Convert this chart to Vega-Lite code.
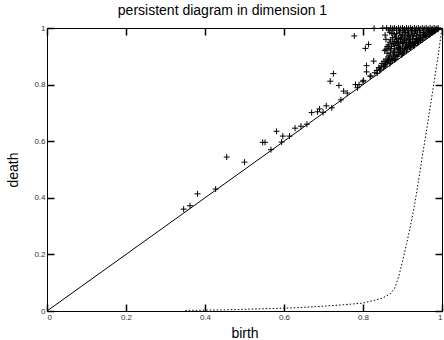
{
  "$schema": "https://vega.github.io/schema/vega-lite/v6.json",
  "width": 395,
  "height": 283,
  "autosize": "none",
  "padding": {"left": 47, "top": 28, "right": 2, "bottom": 29},
  "title": {"text": "persistent diagram in dimension 1", "fontSize": 14, "fontWeight": "normal", "font": "Liberation Sans", "color": "black", "offset": 5, "dx": -22},
  "config": {
    "view": {"stroke": "black", "strokeWidth": 1},
    "axis": {"grid": false, "domain": false, "tickColor": "black", "tickSize": 7, "offset": -7, "tickWidth": 1.5, "zindex": 2, "labelFontSize": 8, "tickCount": 5}
  },
  "datasets": {
    "diag": [{"b": 0, "d": 0}, {"b": 1, "d": 1}],
    "curve": [
      {"b": 0.35, "d": 0.002}, {"b": 0.4, "d": 0.003}, {"b": 0.45, "d": 0.004}, {"b": 0.5, "d": 0.006}, {"b": 0.55, "d": 0.008}, {"b": 0.6, "d": 0.01}, {"b": 0.65, "d": 0.013}, {"b": 0.7, "d": 0.017}, {"b": 0.75, "d": 0.022}, {"b": 0.8, "d": 0.028}, {"b": 0.83, "d": 0.038}, {"b": 0.85, "d": 0.046}, {"b": 0.87, "d": 0.062}, {"b": 0.88, "d": 0.08}, {"b": 0.89, "d": 0.12}, {"b": 0.9, "d": 0.175}, {"b": 0.91, "d": 0.235}, {"b": 0.92, "d": 0.3}, {"b": 0.93, "d": 0.37}, {"b": 0.94, "d": 0.455}, {"b": 0.95, "d": 0.545}, {"b": 0.96, "d": 0.63}, {"b": 0.97, "d": 0.72}, {"b": 0.98, "d": 0.81}, {"b": 0.99, "d": 0.9}, {"b": 1.0, "d": 1.0}
    ],
    "pts": [
      {"b": 0.346, "d": 0.36}, {"b": 0.362, "d": 0.372}, {"b": 0.381, "d": 0.414}, {"b": 0.427, "d": 0.431}, {"b": 0.455, "d": 0.544}, {"b": 0.5, "d": 0.526},
      {"b": 0.546, "d": 0.596}, {"b": 0.552, "d": 0.596}, {"b": 0.567, "d": 0.57}, {"b": 0.581, "d": 0.635}, {"b": 0.594, "d": 0.597}, {"b": 0.597, "d": 0.618},
      {"b": 0.614, "d": 0.618}, {"b": 0.628, "d": 0.646}, {"b": 0.643, "d": 0.653}, {"b": 0.658, "d": 0.66}, {"b": 0.67, "d": 0.701}, {"b": 0.685, "d": 0.704},
      {"b": 0.69, "d": 0.714}, {"b": 0.699, "d": 0.702}, {"b": 0.707, "d": 0.725}, {"b": 0.721, "d": 0.718}, {"b": 0.717, "d": 0.812}, {"b": 0.739, "d": 0.797},
      {"b": 0.751, "d": 0.777}, {"b": 0.744, "d": 0.746}, {"b": 0.725, "d": 0.839}, {"b": 0.781, "d": 0.8}, {"b": 0.786, "d": 0.789}, {"b": 0.801, "d": 0.815},
      {"b": 0.806, "d": 0.928}, {"b": 0.814, "d": 0.942}, {"b": 0.827, "d": 0.883}, {"b": 0.809, "d": 0.867}, {"b": 0.809, "d": 0.845}, {"b": 0.818, "d": 0.83},
      {"b": 0.835, "d": 0.85}, {"b": 0.836, "d": 0.84}, {"b": 0.778, "d": 0.972}, {"b": 0.828, "d": 0.999}, {"b": 0.856, "d": 0.975}, {"b": 0.858, "d": 0.96},
      {"b": 0.861, "d": 0.934}, {"b": 0.861, "d": 0.911}, {"b": 0.866, "d": 0.901}, {"b": 0.873, "d": 0.981},
      {"b": 0.85, "d": 1.0}, {"b": 0.86, "d": 1.0}, {"b": 0.87, "d": 1.0}, {"b": 0.875, "d": 0.998}, {"b": 0.88, "d": 1.0}, {"b": 0.885, "d": 0.997}, {"b": 0.89, "d": 1.0}, {"b": 0.895, "d": 0.998},
      {"b": 0.9, "d": 1.0}, {"b": 0.905, "d": 0.996}, {"b": 0.91, "d": 1.0}, {"b": 0.915, "d": 0.998}, {"b": 0.92, "d": 1.0}, {"b": 0.925, "d": 0.997}, {"b": 0.93, "d": 1.0}, {"b": 0.935, "d": 0.998},
      {"b": 0.94, "d": 1.0}, {"b": 0.945, "d": 0.997}, {"b": 0.95, "d": 1.0}, {"b": 0.955, "d": 0.998}, {"b": 0.96, "d": 1.0}, {"b": 0.965, "d": 0.997}, {"b": 0.97, "d": 1.0}, {"b": 0.975, "d": 0.998},
      {"b": 0.98, "d": 1.0}, {"b": 0.985, "d": 0.998}, {"b": 0.99, "d": 1.0},
      {"b": 0.885, "d": 0.98}, {"b": 0.892, "d": 0.985}, {"b": 0.9, "d": 0.978}, {"b": 0.908, "d": 0.984}, {"b": 0.915, "d": 0.979}, {"b": 0.922, "d": 0.986}, {"b": 0.93, "d": 0.98}, {"b": 0.938, "d": 0.985},
      {"b": 0.945, "d": 0.978}, {"b": 0.952, "d": 0.984}, {"b": 0.96, "d": 0.98}, {"b": 0.966, "d": 0.986}, {"b": 0.972, "d": 0.982}, {"b": 0.978, "d": 0.99},
      {"b": 0.875, "d": 0.965}, {"b": 0.882, "d": 0.968}, {"b": 0.89, "d": 0.963}, {"b": 0.897, "d": 0.967}, {"b": 0.905, "d": 0.962}, {"b": 0.912, "d": 0.968}, {"b": 0.92, "d": 0.964}, {"b": 0.927, "d": 0.969},
      {"b": 0.935, "d": 0.963}, {"b": 0.942, "d": 0.967}, {"b": 0.95, "d": 0.965}, {"b": 0.957, "d": 0.97}, {"b": 0.962, "d": 0.972},
      {"b": 0.868, "d": 0.95}, {"b": 0.88, "d": 0.952}, {"b": 0.888, "d": 0.948}, {"b": 0.895, "d": 0.953}, {"b": 0.902, "d": 0.949}, {"b": 0.91, "d": 0.954}, {"b": 0.918, "d": 0.948}, {"b": 0.925, "d": 0.952},
      {"b": 0.933, "d": 0.949}, {"b": 0.94, "d": 0.953}, {"b": 0.946, "d": 0.956},
      {"b": 0.872, "d": 0.935}, {"b": 0.884, "d": 0.938}, {"b": 0.893, "d": 0.933}, {"b": 0.9, "d": 0.937}, {"b": 0.908, "d": 0.934}, {"b": 0.915, "d": 0.938}, {"b": 0.922, "d": 0.935}, {"b": 0.928, "d": 0.94},
      {"b": 0.855, "d": 0.92}, {"b": 0.87, "d": 0.922}, {"b": 0.878, "d": 0.918}, {"b": 0.887, "d": 0.923}, {"b": 0.896, "d": 0.919}, {"b": 0.905, "d": 0.922}, {"b": 0.912, "d": 0.925},
      {"b": 0.876, "d": 0.905}, {"b": 0.884, "d": 0.902}, {"b": 0.89, "d": 0.907}, {"b": 0.898, "d": 0.905},
      {"b": 0.858, "d": 0.89}, {"b": 0.865, "d": 0.888}, {"b": 0.873, "d": 0.892}, {"b": 0.882, "d": 0.89},
      {"b": 0.848, "d": 0.875}, {"b": 0.86, "d": 0.877}, {"b": 0.868, "d": 0.874},
      {"b": 0.84, "d": 0.86}, {"b": 0.852, "d": 0.862},
      {"b": 0.76, "d": 0.77}, {"b": 0.79, "d": 0.8}, {"b": 0.8, "d": 0.81}, {"b": 0.82, "d": 0.83}, {"b": 0.845, "d": 0.852}, {"b": 0.855, "d": 0.865}, {"b": 0.87, "d": 0.88}, {"b": 0.88, "d": 0.888},
      {"b": 0.9, "d": 0.91}, {"b": 0.91, "d": 0.918}, {"b": 0.92, "d": 0.93}, {"b": 0.93, "d": 0.938}, {"b": 0.94, "d": 0.95}, {"b": 0.95, "d": 0.958}, {"b": 0.96, "d": 0.97}, {"b": 0.97, "d": 0.978},
      {"b": 0.98, "d": 0.99}, {"b": 0.985, "d": 0.994}, {"b": 0.975, "d": 0.993}, {"b": 0.968, "d": 0.99}, {"b": 0.955, "d": 0.975}, {"b": 0.935, "d": 0.958}, {"b": 0.915, "d": 0.944}, {"b": 0.895, "d": 0.926},
      {"b": 0.892, "d": 0.99}, {"b": 0.903, "d": 0.991}, {"b": 0.913, "d": 0.99}, {"b": 0.923, "d": 0.992}, {"b": 0.933, "d": 0.99}, {"b": 0.943, "d": 0.991}, {"b": 0.953, "d": 0.99}, {"b": 0.963, "d": 0.992}, {"b": 0.973, "d": 0.99}, {"b": 0.983, "d": 0.992}, {"b": 0.99, "d": 0.995},
      {"b": 0.896, "d": 0.973}, {"b": 0.906, "d": 0.972}, {"b": 0.917, "d": 0.974}, {"b": 0.926, "d": 0.975}, {"b": 0.936, "d": 0.973}, {"b": 0.946, "d": 0.972}, {"b": 0.957, "d": 0.978}, {"b": 0.967, "d": 0.976}, {"b": 0.976, "d": 0.984}, {"b": 0.982, "d": 0.988},
      {"b": 0.885, "d": 0.958}, {"b": 0.896, "d": 0.96}, {"b": 0.906, "d": 0.957}, {"b": 0.916, "d": 0.959}, {"b": 0.926, "d": 0.958}, {"b": 0.936, "d": 0.96}, {"b": 0.945, "d": 0.962}, {"b": 0.952, "d": 0.966},
      {"b": 0.878, "d": 0.943}, {"b": 0.89, "d": 0.944}, {"b": 0.9, "d": 0.945}, {"b": 0.91, "d": 0.943}, {"b": 0.92, "d": 0.944}, {"b": 0.93, "d": 0.945}, {"b": 0.938, "d": 0.947},
      {"b": 0.866, "d": 0.928}, {"b": 0.88, "d": 0.928}, {"b": 0.89, "d": 0.93}, {"b": 0.9, "d": 0.928}, {"b": 0.91, "d": 0.93}, {"b": 0.918, "d": 0.932},
      {"b": 0.87, "d": 0.912}, {"b": 0.88, "d": 0.913}, {"b": 0.892, "d": 0.914}, {"b": 0.902, "d": 0.915},
      {"b": 0.866, "d": 0.897}, {"b": 0.878, "d": 0.898}, {"b": 0.888, "d": 0.9},
      {"b": 0.853, "d": 0.882}, {"b": 0.862, "d": 0.884}, {"b": 0.874, "d": 0.885},
      {"b": 0.846, "d": 0.866}, {"b": 0.857, "d": 0.87}, {"b": 0.83, "d": 0.842}, {"b": 0.842, "d": 0.855},
      {"b": 0.865, "d": 0.993}, {"b": 0.878, "d": 0.992}, {"b": 0.868, "d": 0.985}, {"b": 0.88, "d": 0.976}, {"b": 0.87, "d": 0.958}, {"b": 0.876, "d": 0.945}, {"b": 0.864, "d": 0.94}, {"b": 0.858, "d": 0.925}
    ]
  },
  "layer": [
    {
      "data": {"name": "diag"},
      "mark": {"type": "line", "color": "black", "strokeWidth": 1},
      "encoding": {
        "x": {"field": "b", "type": "quantitative", "scale": {"domain": [0, 1], "nice": false}, "axis": {"title": "birth", "orient": "bottom", "format": "~g", "titlePadding": 5, "labelFont": "Liberation Sans", "labelColor": "#333", "titleFont": "Liberation Sans", "titleFontSize": 14, "titleFontWeight": "normal", "titleColor": "black"}},
        "y": {"field": "d", "type": "quantitative", "scale": {"domain": [0, 1], "nice": false}, "axis": {"title": "death", "orient": "left", "format": "~g", "titlePadding": 13, "labelFont": "Liberation Sans", "labelColor": "#333", "titleFont": "Liberation Sans", "titleFontSize": 14, "titleFontWeight": "normal", "titleColor": "black"}}
      }
    },
    {
      "data": {"name": "diag"},
      "mark": {"type": "line", "opacity": 0},
      "encoding": {
        "x": {"field": "b", "type": "quantitative", "axis": {"orient": "top", "labels": false, "title": null}},
        "y": {"field": "d", "type": "quantitative", "axis": {"orient": "right", "labels": false, "title": null}}
      }
    },
    {
      "data": {"name": "curve"},
      "mark": {"type": "line", "color": "black", "strokeWidth": 1, "strokeDash": [1.5, 2]},
      "encoding": {
        "x": {"field": "b", "type": "quantitative", "axis": null},
        "y": {"field": "d", "type": "quantitative", "axis": null}
      }
    },
    {
      "data": {"name": "pts"},
      "mark": {"type": "point", "shape": "M-1,0L1,0M0,-1L0,1", "filled": false, "color": "black", "strokeWidth": 1, "size": 36, "opacity": 1},
      "encoding": {
        "x": {"field": "b", "type": "quantitative", "axis": null},
        "y": {"field": "d", "type": "quantitative", "axis": null}
      }
    }
  ],
  "resolve": {"axis": {"x": "independent", "y": "independent"}}
}
